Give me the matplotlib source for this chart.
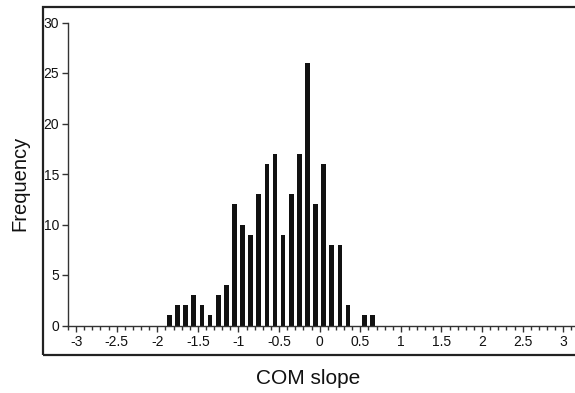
import numpy as np
import matplotlib.pyplot as plt
from matplotlib.patches import Rectangle
from matplotlib.ticker import MultipleLocator

# histogram of COM slope, bin centres
centres = [-1.85, -1.75, -1.65, -1.55, -1.45, -1.35, -1.25, -1.15, -1.05, -0.95,
           -0.85, -0.75, -0.65, -0.55, -0.45, -0.35, -0.25, -0.15, -0.05, 0.05,
           0.15, 0.25, 0.35, 0.55, 0.65]
counts = [1, 2, 2, 3, 2, 1, 3, 4, 12, 10,
          9, 13, 16, 17, 9, 13, 17, 26, 12, 16,
          8, 8, 2, 1, 1]
xticks = [-3, -2.5, -2, -1.5, -1, -0.5, 0, 0.5, 1, 1.5, 2, 2.5, 3]
xticklabels = ['-3', '-2.5', '-2', '-1.5', '-1', '-0.5', '0', '0.5', '1', '1.5', '2', '2.5', '3']
yticks = [0, 5, 10, 15, 20, 25, 30]

plt.rcParams['font.family'] = ['Liberation Sans', 'DejaVu Sans']

fig = plt.figure(figsize=(5.75, 3.93), dpi=100)
fig.patch.set_facecolor('white')
ax = fig.add_axes([68/575, 1-325.5/393, 1-68/575, (325.5-22.5)/393])

ax.bar(centres, counts, width=0.058, color='#111111', zorder=1)

ax.set_xlim(-3.1, 3.145)
ax.set_ylim(0, 30)
ax.set_xticks(xticks)
ax.set_xticklabels(xticklabels)
ax.xaxis.set_minor_locator(MultipleLocator(0.1))
ax.set_yticks(yticks)
ax.tick_params(axis='both', which='major', labelsize=10, length=4, width=1,
               color='#333333', labelcolor='#111111', pad=2.5)
ax.tick_params(axis='x', which='minor', length=3, width=1, color='#333333')
for s in ['top', 'right']:
    ax.spines[s].set_visible(False)
for s in ['left', 'bottom']:
    ax.spines[s].set_linewidth(1)
    ax.spines[s].set_color('#333333')

# outer frame round the plot (open to the right, as cut off)
fig.patches.append(Rectangle((43/575, 1-355/393), 1.0, (355-7)/393,
                             transform=fig.transFigure, fill=False,
                             edgecolor='#222222', linewidth=1.6))

fig.text(308/575, 1-378/393, 'COM slope', ha='center', va='center', fontsize=15, color='#111111')
fig.text(20/575, 1-183/393, 'Frequency', ha='center', va='center', fontsize=14.5,
         rotation=90, color='#111111')

fig.savefig('out.png', dpi=100)
